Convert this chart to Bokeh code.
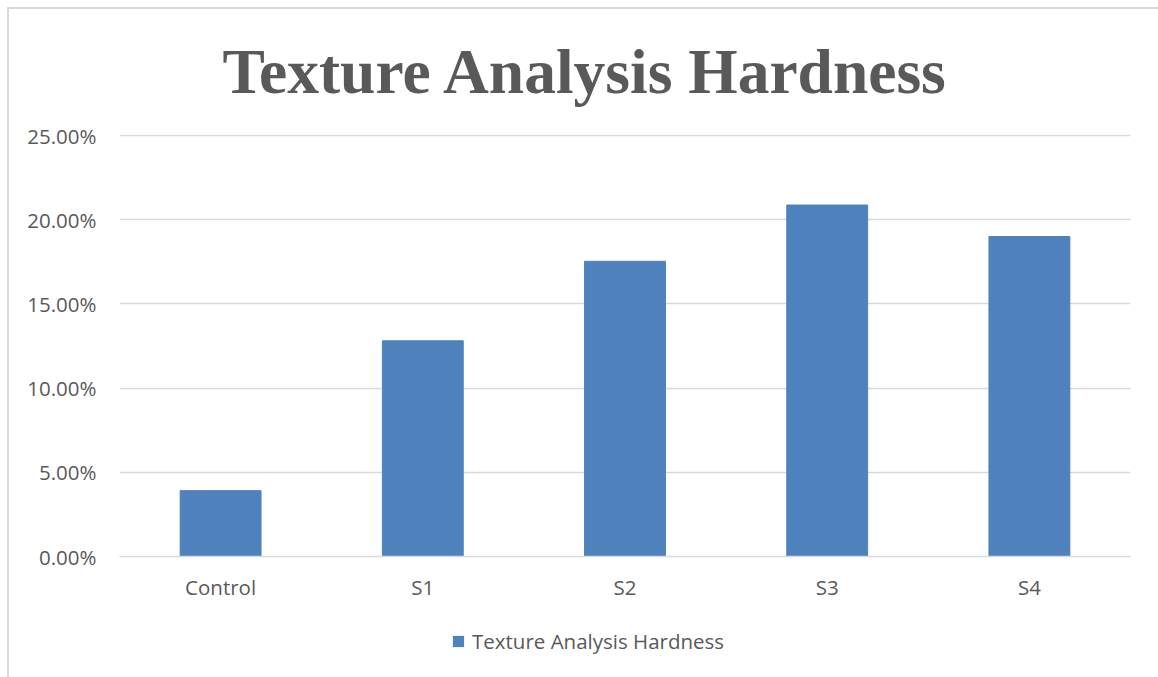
from bokeh.plotting import figure
from bokeh.layouts import column
from bokeh.models import (Range1d, FactorRange, FixedTicker, NumeralTickFormatter,
                          Legend, LegendItem, ColumnDataSource)
from bokeh.embed import file_html
from bokeh.resources import INLINE

categories = ["Control", "S1", "S2", "S3", "S4"]
hardness = [0.0391, 0.1281, 0.1753, 0.2087, 0.1900]
y_ticks = [0.0, 0.05, 0.10, 0.15, 0.20, 0.25]
title_text = "Texture Analysis Hardness"
series_name = "Texture Analysis Hardness"

BAR = "#4F81BD"
GRID = "#d9d9d9"
TXT = "#595959"
FONT = "Open Sans"

src = ColumnDataSource(dict(cat=categories, val=hardness))

p = figure(width=1149, height=600,
           x_range=FactorRange(*categories),
           y_range=Range1d(0, 0.2506),
           output_backend="svg", toolbar_location=None,
           min_border_left=110, min_border_right=28,
           min_border_top=125, min_border_bottom=53,
           margin=0)

r = p.vbar(x="cat", top="val", width=0.4, source=src,
           fill_color=BAR, line_color=BAR)

# title
p.title.text = title_text
p.title.text_font = "Liberation Serif"
p.title.text_font_style = "bold"
p.title.text_font_size = "63.5px"
p.title.text_color = TXT
p.title.align = "left"
p.title.vertical_align = "top"
p.title.offset = 103
p.title.standoff = 51

# axes
p.yaxis.ticker = FixedTicker(ticks=y_ticks)
p.yaxis.formatter = NumeralTickFormatter(format="0.00%")
p.yaxis.axis_line_color = None
p.yaxis.major_tick_line_color = None
p.yaxis.minor_tick_line_color = None
p.yaxis.major_label_standoff = 17
p.yaxis.major_label_text_font = FONT
p.yaxis.major_label_text_font_size = "20.5px"
p.yaxis.major_label_text_color = TXT

p.xaxis.axis_line_color = GRID
p.xaxis.axis_line_width = 1.5
p.xaxis.major_tick_line_color = None
p.xaxis.minor_tick_line_color = None
p.xaxis.major_label_standoff = 10
p.xaxis.major_label_text_font = FONT
p.xaxis.major_label_text_font_size = "20.5px"
p.xaxis.major_label_text_color = TXT

p.xgrid.grid_line_color = None
p.ygrid.ticker = FixedTicker(ticks=y_ticks)
p.ygrid.grid_line_color = GRID
p.ygrid.grid_line_width = 1.5

p.outline_line_color = None
p.background_fill_color = "white"
p.border_fill_color = "white"

# legend strip underneath the chart (its frame is aligned with the chart's frame)
lg = figure(width=1149, height=68, x_range=FactorRange(*categories),
            y_range=Range1d(1.0, 1.1),
            x_axis_type=None, y_axis_type=None,
            output_backend="svg", toolbar_location=None,
            min_border=0, margin=0)
lg.grid.visible = False
lg.outline_line_color = None
lg.background_fill_color = "white"
lg.border_fill_color = "white"
# same series, lying outside this strip's visible range: only its legend key shows
key = lg.vbar(x="cat", top="val", width=0.001, source=src,
              fill_color=BAR, line_color=None)

legend = Legend(items=[LegendItem(label=series_name, renderers=[key])],
                orientation="horizontal", location=(332, 22),
                padding=0, margin=0, border_line_alpha=0,
                glyph_width=14, glyph_height=14, label_standoff=7,
                label_text_font=FONT, label_text_font_size="20.5px",
                label_text_color=TXT, background_fill_alpha=0)
lg.add_layout(legend, "center")

page = column(p, lg, spacing=0, margin=(7, 0, 0, 7))
page.styles = {"border-left": "2px solid #d9d9d9", "border-top": "2px solid #d9d9d9",
               "background-color": "white"}

open("out.html", "w").write(file_html(page, INLINE))
